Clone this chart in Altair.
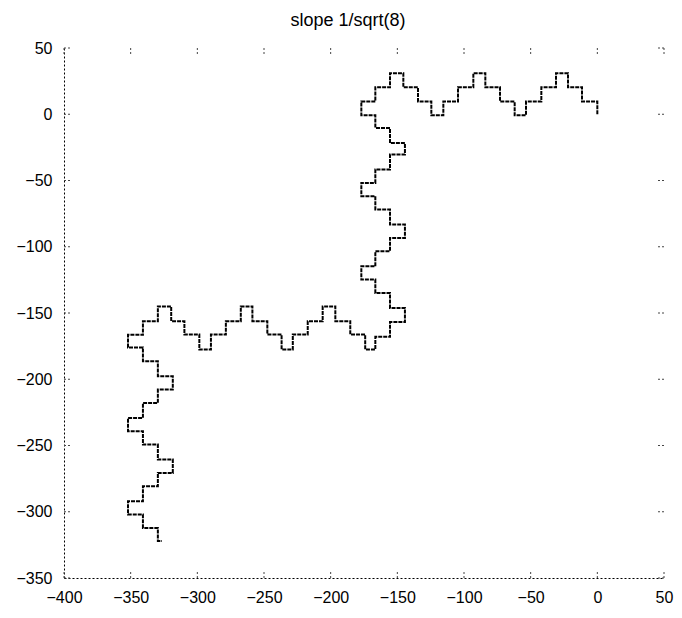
import altair as alt
import pandas as pd

# Curve vertices (x, y), in drawing order
xs = [
    # top row (going left from the origin)
    0, 0, -11.5, -11.5, -22, -22, -31, -31, -42, -42, -53.5, -53.5, -62, -62,
    -73, -73, -84, -84, -93, -93, -104.5, -104.5, -115.5, -115.5, -124.5, -124.5,
    -134.5, -134.5, -145.5, -145.5, -155.5, -155.5, -166.5, -166.5, -177, -177,
    # middle column (going down)
    -166.5, -166.5, -155.5, -155.5, -144.3, -144.3, -155.5, -155.5, -166.5, -166.5,
    -177, -177, -166.5, -166.5, -155.5, -155.5, -144.3, -144.3, -155.5, -155.5,
    -166.5, -166.5, -177, -177, -166.5, -166.5, -155.5, -155.5, -144.3, -144.3,
    -155.5, -155.5, -166.5, -166.5,
    # bottom row (going left)
    -174.1, -174.1, -185.3, -185.3, -196.5, -196.5, -206, -206, -217.2, -217.2,
    -228.4, -228.4, -236.8, -236.8, -247.5, -247.5, -258.7, -258.7, -267.4, -267.4,
    -278.6, -278.6, -289.8, -289.8, -298.5, -298.5, -309.7, -309.7, -319.6, -319.6,
    -329.6, -329.6, -340.8, -340.8, -352, -352,
    # last column (going down)
    -340.8, -340.8, -329.6, -329.6, -318.4, -318.4, -329.6, -329.6, -340.8, -340.8,
    -352, -352, -340.8, -340.8, -329.6, -329.6, -318.4, -318.4, -329.6, -329.6,
    -340.8, -340.8, -352, -352, -340.8, -340.8, -329.6, -329.6, -326.5,
]
ys = [
    0, 9.6, 9.6, 20.3, 20.3, 31, 31, 20.3, 20.3, 9.6, 9.6, -0.8, -0.8, 9.6,
    9.6, 20.3, 20.3, 31, 31, 20.3, 20.3, 9.6, 9.6, -0.8, -0.8, 9.6,
    9.6, 20.3, 20.3, 31, 31, 20.3, 20.3, 9.6, 9.6, -0.8,
    -0.8, -10.3, -10.3, -21.7, -21.7, -30.4, -30.4, -41.7, -41.7, -51.8,
    -51.8, -61.9, -61.9, -71.9, -71.9, -83.2, -83.2, -93.4, -93.4, -103.4,
    -103.4, -114.7, -114.7, -124.8, -124.8, -134.9, -134.9, -146.2, -146.2, -156.8,
    -156.8, -168, -168, -177.6,
    -177.6, -166.2, -166.2, -156.2, -156.2, -145, -145, -156.2, -156.2, -166.2,
    -166.2, -177.6, -177.6, -166.2, -166.2, -156.2, -156.2, -145, -145, -156.2,
    -156.2, -166.2, -166.2, -177.6, -177.6, -166.2, -166.2, -156.2, -156.2, -145,
    -145, -156.2, -156.2, -166.5, -166.5, -176,
    -176, -186.4, -186.4, -197.7, -197.7, -207.8, -207.8, -217.9, -217.9, -229.2,
    -229.2, -239.2, -239.2, -249.3, -249.3, -260.6, -260.6, -270.7, -270.7, -280.8,
    -280.8, -292.1, -292.1, -302.1, -302.1, -312.2, -312.2, -322, -322,
]

x_ticks = [-400, -350, -300, -250, -200, -150, -100, -50, 0, 50]
y_ticks = [-350, -300, -250, -200, -150, -100, -50, 0, 50]
title_text = "slope 1/sqrt(8)"

W, H = 600, 530
FONT = "Liberation Sans"

curve = pd.DataFrame({"x": xs, "y": ys, "i": list(range(len(xs)))})
xt = pd.DataFrame({"x": x_ticks})
yt = pd.DataFrame({"y": y_ticks})

xscale = alt.Scale(domain=[-400, 50], nice=False, zero=False)
yscale = alt.Scale(domain=[-350, 50], nice=False, zero=False)

x_axis = alt.Axis(values=x_ticks, ticks=False, grid=False, domainDash=[2, 2],
                  domainColor="black", labelFont=FONT, labelFontSize=16,
                  labelColor="black", labelPadding=11, labelFlush=False,
                  labelOverlap=False, title=None)
y_axis = alt.Axis(values=y_ticks, ticks=False, grid=False, domainDash=[2, 2],
                  domainColor="black", labelFont=FONT, labelFontSize=16,
                  labelColor="black", labelPadding=12, labelFlush=False,
                  labelOverlap=False, title=None)

line = alt.Chart(curve).mark_line(color="black", strokeWidth=2,
                                  strokeDash=[4, 1]).encode(
    x=alt.X("x:Q", scale=xscale, axis=x_axis),
    y=alt.Y("y:Q", scale=yscale, axis=y_axis),
    order="i:Q",
)

tick_style = dict(color="#444444", strokeWidth=1, strokeDash=[2, 2])

bottom_ticks = alt.Chart(xt).mark_rule(**tick_style).encode(
    x=alt.X("x:Q", scale=xscale), y=alt.value(H), y2=alt.value(H - 8))
top_ticks = alt.Chart(xt).mark_rule(**tick_style).encode(
    x=alt.X("x:Q", scale=xscale), y=alt.value(0), y2=alt.value(8))
left_ticks = alt.Chart(yt).mark_rule(**tick_style).encode(
    y=alt.Y("y:Q", scale=yscale), x=alt.value(0), x2=alt.value(8))
right_ticks = alt.Chart(yt).mark_rule(**tick_style).encode(
    y=alt.Y("y:Q", scale=yscale), x=alt.value(W), x2=alt.value(W - 8))

chart = alt.layer(line, bottom_ticks, top_ticks, left_ticks, right_ticks).properties(
    width=W, height=H,
    title=alt.TitleParams(title_text, font=FONT, fontSize=18, fontWeight="normal",
                          color="black", anchor="middle", dx=-16, offset=10),
    autosize=alt.AutoSizeParams(type="none"),
    padding={"left": 56, "top": 40, "right": 10, "bottom": 30},
).configure_view(stroke=None)

chart.save("out.html", embed_options={"renderer": "svg", "actions": False})
